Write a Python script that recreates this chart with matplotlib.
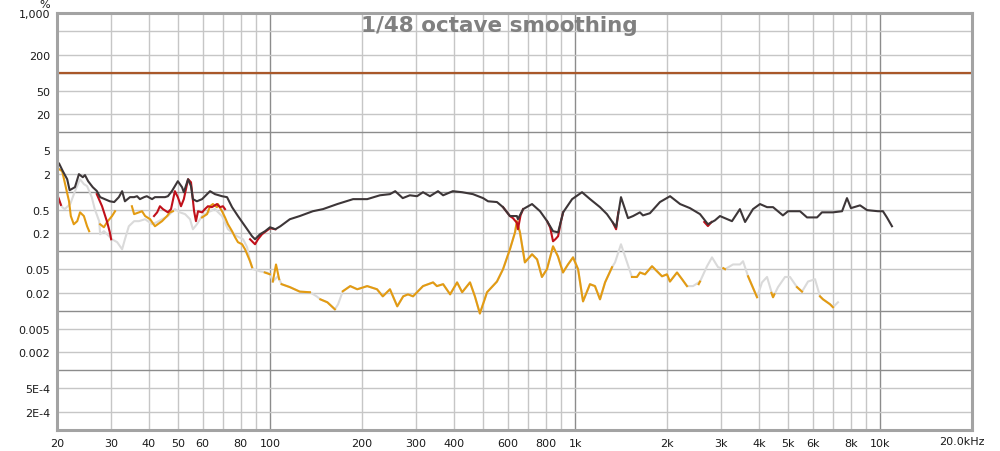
import numpy as np
import matplotlib.pyplot as plt
from matplotlib.ticker import NullLocator

nan = np.nan

# --- Dados (frequência em Hz, valor em %) ---

# fundamental (linha horizontal)
fund_pct = 100

# THD (curva escura)
thd_freq = [20.0, 20.3, 20.9, 21.6, 22.0, 22.9, 23.6, 24.3, 24.7, 25.3,
            26.2, 27.0, 27.7, 28.7, 29.8, 30.8, 31.9, 32.7, 33.4, 34.7,
            35.8, 36.6, 37.4, 38.6, 39.4, 41.0, 41.9, 43.5, 45.2, 46.2,
            47.6, 49.8, 51.4, 52.1, 53.8, 55.0, 55.8, 57.5, 59.8, 63.5,
            65.9, 69.5, 72.2, 75.0, 78.4, 82.7, 87.2, 89.2, 92.6, 96.2,
            99.9, 104, 108, 116, 125, 138, 149, 166, 187, 208,
            229, 247, 257, 272, 287, 303, 317, 334, 355, 369,
            397, 426, 462, 499, 518, 554, 580, 611, 644, 649,
            675, 722, 767, 809, 846, 879, 913, 977, 1053, 1119,
            1206, 1271, 1362, 1413, 1490, 1548, 1630, 1668, 1758, 1896,
            2047, 2208, 2378, 2566, 2724, 2872, 2983, 3266, 3468, 3606,
            3828, 4036, 4257, 4454, 4798, 4987, 5459, 5756, 6209, 6442,
            7000, 7499, 7782, 8019, 8590, 9058, 9840, 10210, 10520, 10930]
thd_pct = [2.68, 3.0, 2.21, 1.62, 1.06, 1.19, 1.97, 1.75, 1.9, 1.50,
           1.19, 1.03, 0.81, 0.75, 0.69, 0.67, 0.81, 1.02, 0.69, 0.81,
           0.81, 0.84, 0.75, 0.81, 0.84, 0.75, 0.81, 0.81, 0.81, 0.84,
           1.02, 1.50, 1.19, 0.98, 1.62, 1.24, 0.75, 0.69, 0.75, 1.02,
           0.91, 0.84, 0.81, 0.55, 0.39, 0.263, 0.179, 0.159, 0.193, 0.217,
           0.253, 0.234, 0.263, 0.345, 0.39, 0.47, 0.51, 0.62, 0.75, 0.75,
           0.87, 0.91, 1.02, 0.78, 0.87, 0.84, 0.98, 0.84, 1.02, 0.87,
           1.02, 0.98, 0.91, 0.78, 0.69, 0.67, 0.55, 0.39, 0.39, 0.345,
           0.51, 0.62, 0.47, 0.32, 0.217, 0.208, 0.45, 0.75, 0.98, 0.75,
           0.55, 0.42, 0.253, 0.81, 0.36, 0.39, 0.45, 0.40, 0.435, 0.67,
           0.84, 0.62, 0.53, 0.42, 0.284, 0.33, 0.39, 0.32, 0.51, 0.31,
           0.51, 0.62, 0.55, 0.55, 0.40, 0.47, 0.47, 0.37, 0.37, 0.45,
           0.45, 0.47, 0.78, 0.53, 0.59, 0.49, 0.47, 0.47, 0.37, 0.263]

# H2 (vermelho) - só aparece onde sai de baixo da THD
h2_freq = [20.0, 20.3, 20.6, 24.0, 27.0, 28.1, 29.2, 29.8, 30.1, 35.0,
           41.6, 42.6, 43.5, 44.5, 46.2, 47.3, 48.7, 49.8, 51.0, 52.1,
           53.8, 55.0, 56.3, 57.1, 58.0, 59.8, 61.1, 62.5, 64.4, 66.9,
           68.5, 70.0, 71.1, 78.0, 85.9, 87.2, 89.2, 91.2, 94.0, 99.9,
           104, 300, 580, 611, 625, 644, 649, 662, 675, 750,
           809, 828, 846, 862, 879, 896, 913, 1100, 1330, 1362,
           1385, 2000, 2650, 2724, 2800]
h2_pct = [0.91, 0.75, 0.6, nan, 0.91, 0.57, 0.31, 0.208, 0.159, nan,
          0.39, 0.45, 0.57, 0.51, 0.45, 0.51, 1.02, 0.81, 0.57, 0.75,
          1.62, 1.44, 0.47, 0.32, 0.47, 0.45, 0.51, 0.57, 0.55, 0.62,
          0.55, 0.57, 0.51, nan, 0.159, 0.147, 0.131, 0.159, 0.193, 0.244,
          0.234, nan, 0.55, 0.39, 0.36, 0.30, 0.234, 0.40, 0.51, nan,
          0.32, 0.25, 0.147, 0.16, 0.179, 0.30, 0.45, nan, 0.30, 0.234,
          0.45, nan, 0.31, 0.265, 0.31]

# H3 (laranja) - com falhas onde aparece a curva cinza
h3_freq = [20.0, 20.3, 20.8, 21.2, 21.9, 22.2, 22.7, 23.3, 23.8, 24.5,
           25.1, 25.5, 26.5, 27.7, 28.5, 29.2, 30.3, 31.0, 33.0, 35.2,
           35.8, 38.0, 38.9, 40.4, 41.9, 44.2, 45.9, 46.9, 48.0, 53.0,
           59.8, 62.1, 63.5, 64.9, 66.9, 67.4, 69.5, 71.1, 72.7, 75.0,
           76.7, 78.4, 80.9, 82.7, 84.6, 85.9, 87.2, 90.0, 96.0, 99.9,
           101, 102, 104.5, 107, 108, 109, 116, 125, 135, 138,
           146, 154, 163, 165, 173, 183, 193, 208, 224, 234,
           247, 261, 273, 283, 294, 317, 342, 352, 369, 389,
           410, 426, 452, 469, 487, 514, 554, 580, 611, 635,
           644, 659, 684, 722, 750, 778, 808, 846, 878, 912,
           947, 984, 1022, 1061, 1118, 1161, 1206, 1253, 1321, 1340,
           1535, 1594, 1631, 1694, 1786, 1855, 1926, 2000, 2045, 2157,
           2240, 2326, 2400, 2540, 2566, 2600, 3060, 3100, 3200, 3688,
           3947, 4000, 4400, 4453, 4500, 4600, 5336, 5542, 5600, 6348,
           6494, 6846, 7003]
h3_pct = [2.58, 2.39, 2.21, 1.44, 0.69, 0.39, 0.284, 0.32, 0.45, 0.39,
          0.263, 0.217, nan, 0.284, 0.253, 0.31, 0.39, 0.47, nan, 0.57,
          0.42, 0.47, 0.39, 0.345, 0.263, 0.32, 0.39, 0.45, 0.47, nan,
          0.37, 0.42, 0.57, 0.62, 0.55, 0.62, 0.47, 0.37, 0.284, 0.217,
          0.172, 0.142, 0.131, 0.108, 0.082, 0.068, 0.054, nan, 0.044, 0.041,
          nan, 0.031, 0.060, 0.034, nan, 0.028, 0.025, 0.021, 0.0205, nan,
          0.0156, 0.0139, 0.0106, nan, 0.0213, 0.026, 0.023, 0.026, 0.023, 0.0175,
          0.023, 0.0119, 0.0175, 0.0189, 0.0175, 0.026, 0.030, 0.026, 0.028, 0.0189,
          0.030, 0.0205, 0.030, 0.0175, 0.009, 0.0205, 0.031, 0.050, 0.108, 0.208,
          0.32, 0.208, 0.065, 0.089, 0.073, 0.037, 0.050, 0.121, 0.082, 0.044,
          0.060, 0.079, 0.050, 0.0144, 0.028, 0.026, 0.0156, 0.030, 0.054, nan,
          0.037, 0.037, 0.044, 0.041, 0.056, 0.046, 0.038, 0.041, 0.031, 0.044,
          0.034, 0.026, nan, 0.028, 0.031, nan, 0.052, 0.050, nan, 0.038,
          0.0169, nan, 0.020, 0.0169, 0.019, nan, 0.025, 0.021, nan, 0.0175,
          0.0156, 0.0129, 0.0115]

# curva cinza clara
hn_freq = [20.0, 20.8, 21.2, 22.1, 22.9, 23.8, 24.5, 25.1, 26.0, 26.6,
           27.5, 27.7, 28.5, 29.2, 30.3, 31.5, 32.7, 33.4, 34.4, 35.8,
           37.1, 38.9, 41.0, 42.6, 44.2, 46.2, 48.7, 50.6, 52.6, 54.6,
           55.8, 57.5, 59.8, 62.5, 65.9, 69.5, 72.7, 77.8, 81.5, 84.0,
           85.9, 87.8, 92.6, 97.6, 99.9, 102, 106, 109, 116, 125,
           135, 142, 146, 154, 163, 167, 173, 183, 193, 208,
           224, 234, 247, 261, 273, 283, 294, 317, 342, 352,
           369, 389, 410, 426, 452, 469, 487, 514, 554, 580,
           611, 635, 644, 659, 684, 722, 750, 778, 808, 846,
           878, 912, 947, 984, 1022, 1061, 1118, 1161, 1206, 1253,
           1321, 1351, 1413, 1479, 1535, 1594, 1631, 1694, 1786, 1855,
           1926, 2000, 2045, 2157, 2240, 2326, 2434, 2566, 2705, 2809,
           2940, 3100, 3292, 3470, 3551, 3688, 3947, 4098, 4256, 4453,
           4624, 4875, 5062, 5336, 5542, 5800, 6114, 6348, 6494, 6846,
           7003, 7272]
hn_pct = [0.81, 0.55, 0.51, 0.62, 1.02, 1.62, 1.34, 1.24, 0.81, 0.51,
          0.32, 0.193, 0.217, 0.193, 0.159, 0.142, 0.108, 0.159, 0.263, 0.32,
          0.32, 0.345, 0.284, 0.31, 0.345, 0.39, 0.51, 0.45, 0.42, 0.345,
          0.234, 0.284, 0.39, 0.45, 0.51, 0.39, 0.234, 0.179, 0.159, 0.117,
          0.068, 0.050, 0.046, 0.044, 0.041, 0.031, 0.038, 0.028, 0.025, 0.021,
          0.0205, 0.0175, 0.0156, 0.0139, 0.0106, 0.0129, 0.0213, 0.026, 0.023, 0.026,
          0.023, 0.0175, 0.023, 0.0119, 0.0175, 0.0189, 0.0175, 0.026, 0.030, 0.026,
          0.028, 0.0189, 0.030, 0.0205, 0.030, 0.0175, 0.009, 0.0205, 0.031, 0.050,
          0.108, 0.208, 0.32, 0.208, 0.065, 0.089, 0.073, 0.037, 0.050, 0.121,
          0.082, 0.044, 0.060, 0.079, 0.050, 0.0144, 0.028, 0.026, 0.0156, 0.030,
          0.054, 0.065, 0.131, 0.065, 0.037, 0.037, 0.044, 0.041, 0.056, 0.046,
          0.038, 0.041, 0.031, 0.044, 0.034, 0.026, 0.026, 0.031, 0.056, 0.079,
          0.054, 0.050, 0.060, 0.060, 0.068, 0.038, 0.0169, 0.030, 0.037, 0.0169,
          0.025, 0.037, 0.037, 0.025, 0.021, 0.031, 0.034, 0.0175, 0.0156, 0.0129,
          0.0115, 0.0139]

# eixos
x_ticks = [20, 30, 40, 50, 60, 80, 100, 200, 300, 400, 600, 800,
           1000, 2000, 3000, 4000, 5000, 6000, 8000, 10000]
x_labels = ['20', '30', '40', '50', '60', '80', '100', '200', '300', '400',
            '600', '800', '1k', '2k', '3k', '4k', '5k', '6k', '8k', '10k']
y_ticks = [1000, 200, 50, 20, 5, 2, 0.5, 0.2, 0.05, 0.02, 0.005, 0.002, 5e-4, 2e-4]
y_labels = ['1,000', '200', '50', '20', '5', '2', '0.5', '0.2', '0.05', '0.02',
            '0.005', '0.002', '5E-4', '2E-4']

# --- Plotagem ---
fig = plt.figure(figsize=(10, 4.52), dpi=100)
ax = fig.add_axes([0.057, 0.0466, 0.915, 0.9224])
ax.set_xscale('log')
ax.set_yscale('log')
ax.set_xlim(20, 20000)
ax.set_ylim(1e-4, 1000)

# grade: linhas claras nos múltiplos, escuras nas décadas
for dec in [10, 100, 1000, 10000]:
    for m in range(2, 10):
        if 20 < dec * m < 20000:
            ax.axvline(dec * m, color='#c6c6c6', lw=1, zorder=1)
for dec in [100, 1000, 10000]:
    ax.axvline(dec, color='#8c8c8c', lw=1, zorder=1)
for e in range(-4, 3):
    for m in (2, 5):
        ax.axhline(m * 10.0**e, color='#c6c6c6', lw=1, zorder=1)
for e in range(-3, 3):
    ax.axhline(10.0**e, color='#8c8c8c', lw=1, zorder=1)

ax.axhline(fund_pct, color='#a9582a', lw=1.6, zorder=3)
ax.plot(hn_freq, hn_pct, color='#dadada', lw=1.5, zorder=4)
ax.plot(h3_freq, h3_pct, color='#e39b12', lw=1.5, zorder=5)
ax.plot(h2_freq, h2_pct, color='#c0101a', lw=1.5, zorder=6)
ax.plot(thd_freq, thd_pct, color='#3d3638', lw=1.5, zorder=7)

ax.xaxis.set_minor_locator(NullLocator())
ax.yaxis.set_minor_locator(NullLocator())
ax.set_xticks(x_ticks, x_labels)
ax.set_yticks(y_ticks, y_labels)
ax.tick_params(length=0, pad=5, labelsize=8, labelcolor='#1a1a1a')
ax.tick_params(axis='x', pad=6)

for s in ax.spines.values():
    s.set_color('#a3a3a3')
    s.set_linewidth(2.2)
    s.set_zorder(10)

ax.text(0.9885, -0.0145, '20.0kHz', transform=ax.transAxes, ha='center', va='top',
        fontsize=8, color='#1a1a1a')
# "%" fica no topo, um pouco cortado como na referência
fig.text(0.045, 1 - 7.5 / 452, '%', ha='center', va='baseline', fontsize=8, color='#1a1a1a')
fig.text(0.499, 1 - 31.5 / 452, '1/48 octave smoothing', ha='center', va='baseline',
         fontsize=15.5, fontweight='bold', color='#808080', zorder=20)

fig.savefig('out.png', dpi=100)
